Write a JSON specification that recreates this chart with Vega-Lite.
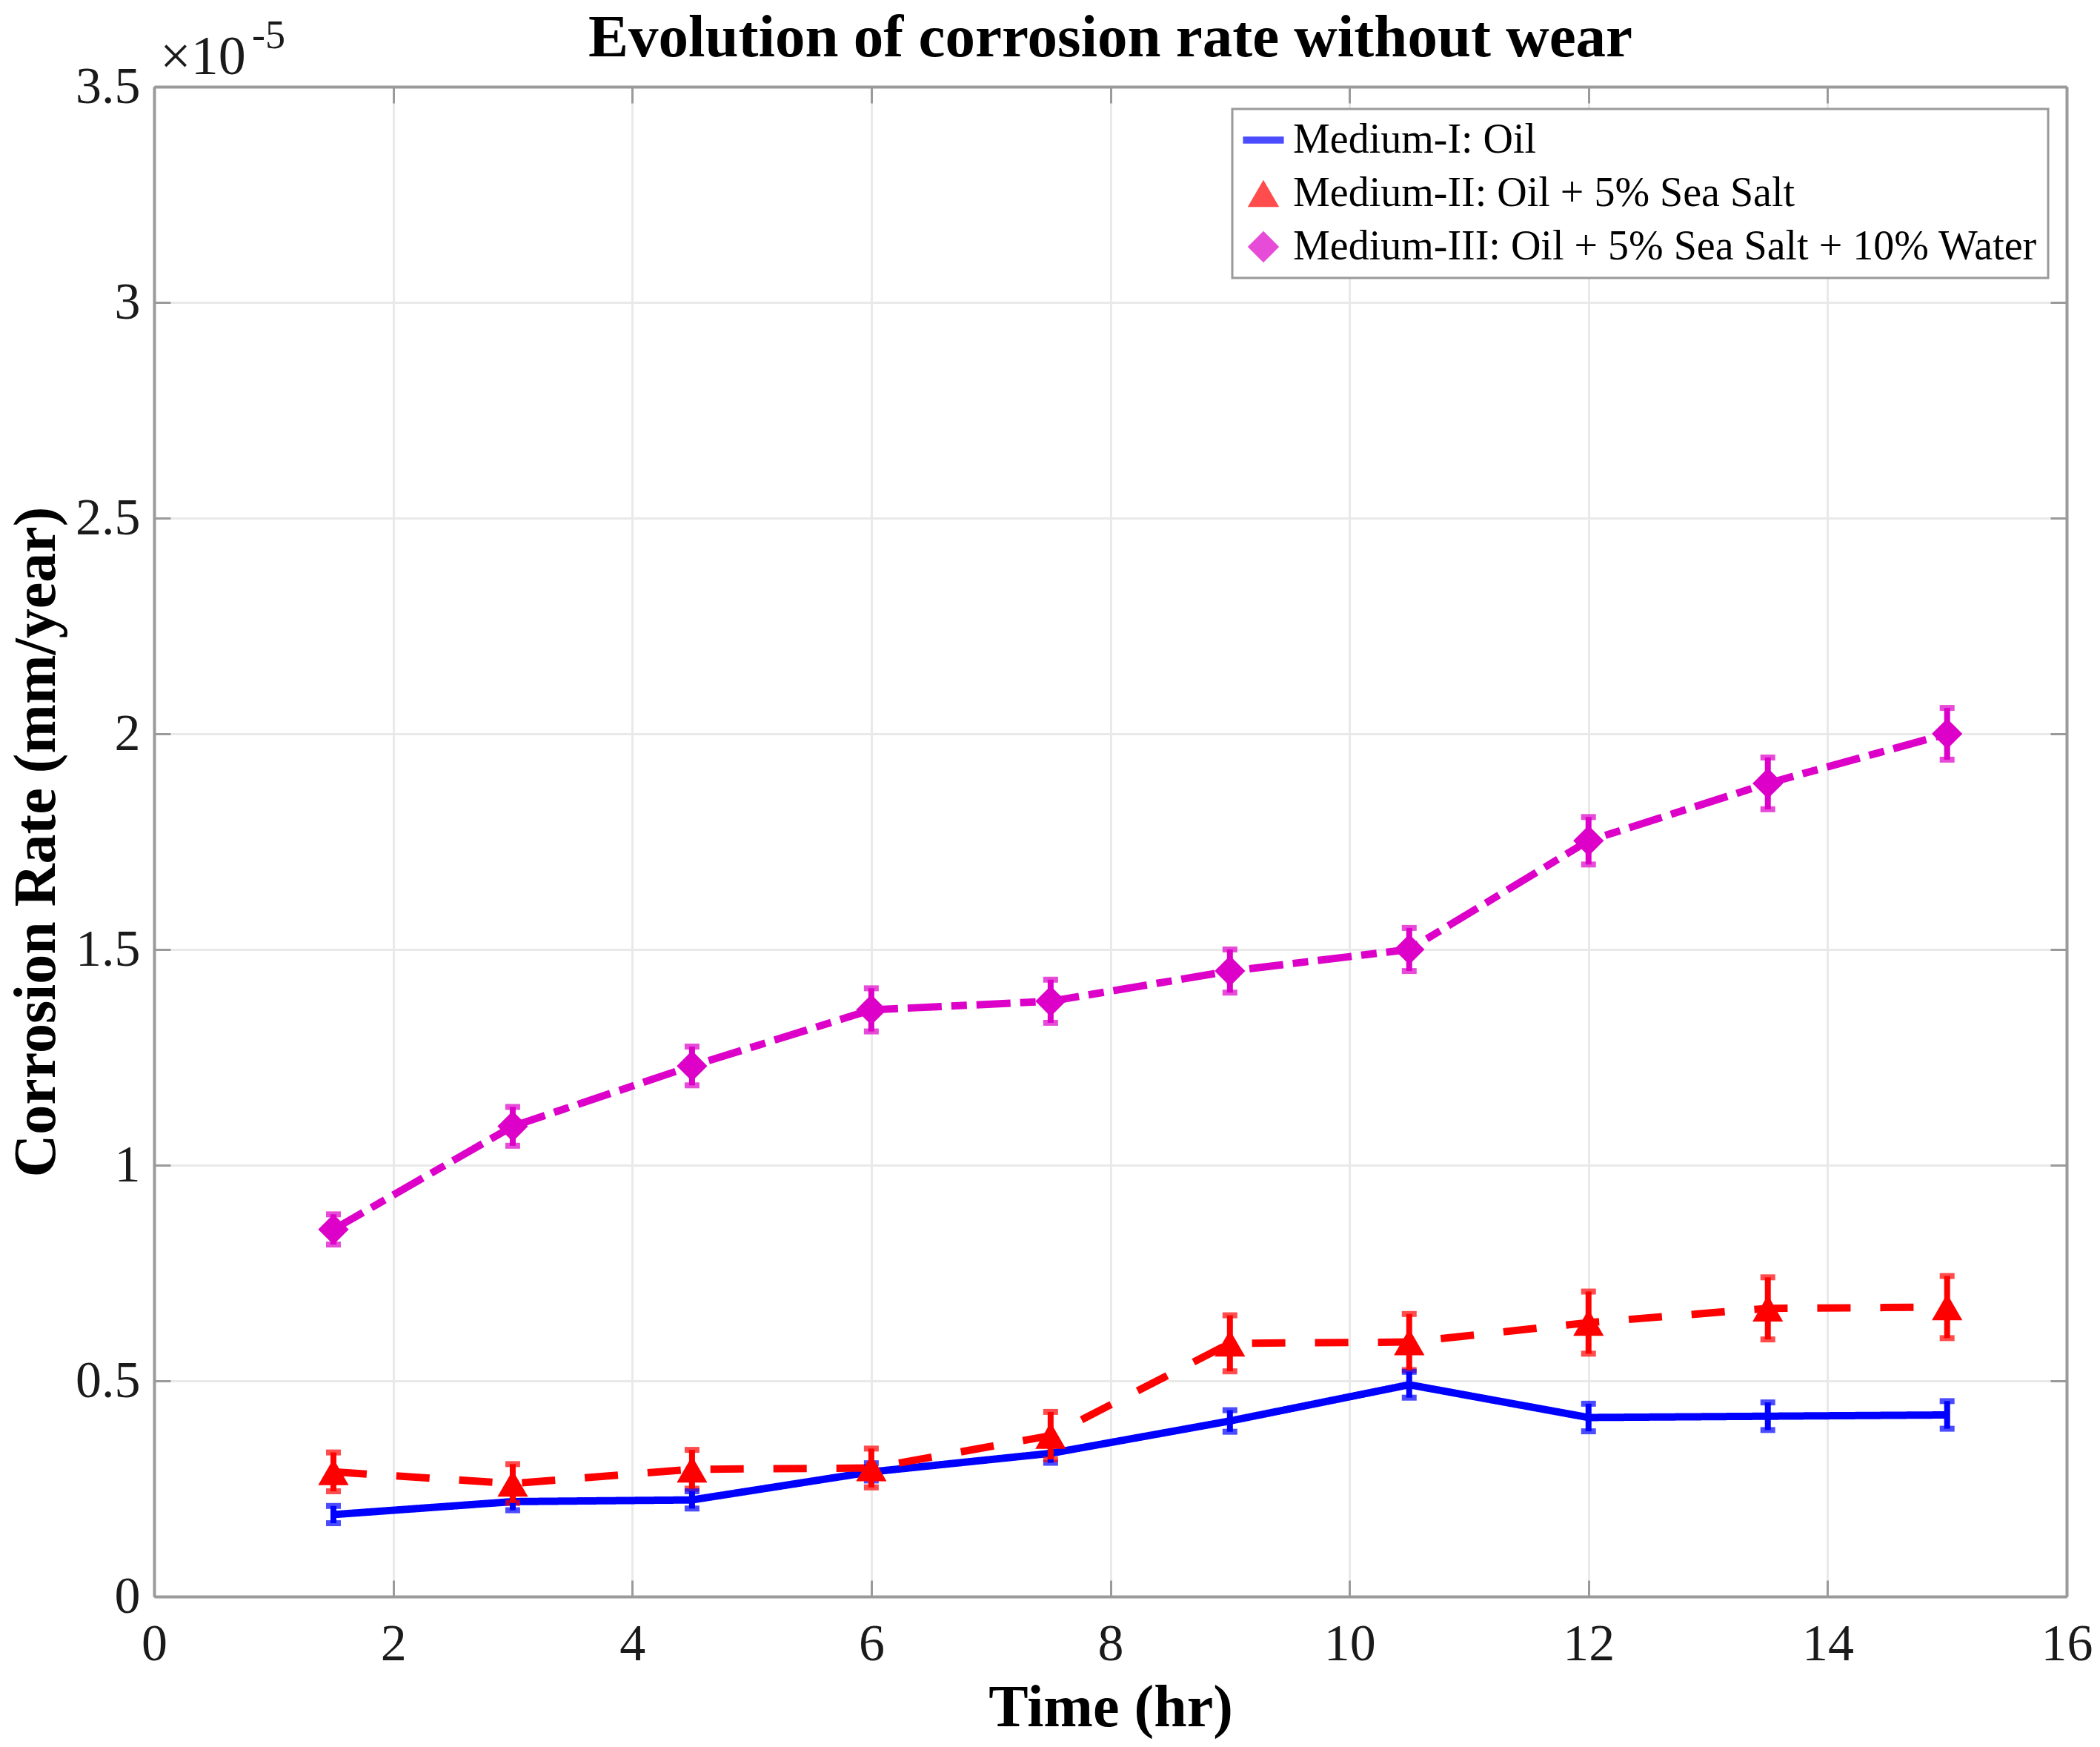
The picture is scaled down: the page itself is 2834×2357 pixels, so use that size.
{
  "$schema": "https://vega.github.io/schema/vega-lite/v6.json",
  "description": "Evolution of corrosion rate without wear, three media, with error bars",
  "width": 2581,
  "height": 2037,
  "autosize": {"type": "none"},
  "padding": {"left": 208, "top": 117, "right": 45, "bottom": 203},
  "background": "white",
  "config": {"font": "Liberation Serif", "view": {"stroke": null}, "legend": {"strokeWidth": 3}},
  "title": {
    "text": "Evolution of corrosion rate without wear",
    "font": "Liberation Serif",
    "fontSize": 81,
    "fontWeight": "bold",
    "color": "black",
    "anchor": "middle",
    "baseline": "alphabetic",
    "offset": -135
  },
  "datasets": {
    "rates": [
      {"time": 1.5, "medium": "Medium-I: Oil", "rate": 1.90e-6, "err": 0.20e-6},
      {"time": 3.0, "medium": "Medium-I: Oil", "rate": 2.20e-6, "err": 0.20e-6},
      {"time": 4.5, "medium": "Medium-I: Oil", "rate": 2.24e-6, "err": 0.20e-6},
      {"time": 6.0, "medium": "Medium-I: Oil", "rate": 2.89e-6, "err": 0.20e-6},
      {"time": 7.5, "medium": "Medium-I: Oil", "rate": 3.32e-6, "err": 0.22e-6},
      {"time": 9.0, "medium": "Medium-I: Oil", "rate": 4.07e-6, "err": 0.25e-6},
      {"time": 10.5, "medium": "Medium-I: Oil", "rate": 4.91e-6, "err": 0.30e-6},
      {"time": 12.0, "medium": "Medium-I: Oil", "rate": 4.15e-6, "err": 0.32e-6},
      {"time": 13.5, "medium": "Medium-I: Oil", "rate": 4.18e-6, "err": 0.32e-6},
      {"time": 15.0, "medium": "Medium-I: Oil", "rate": 4.21e-6, "err": 0.32e-6},
      {"time": 1.5, "medium": "Medium-II: Oil + 5% Sea Salt", "rate": 2.89e-6, "err": 0.45e-6},
      {"time": 3.0, "medium": "Medium-II: Oil + 5% Sea Salt", "rate": 2.62e-6, "err": 0.45e-6},
      {"time": 4.5, "medium": "Medium-II: Oil + 5% Sea Salt", "rate": 2.95e-6, "err": 0.45e-6},
      {"time": 6.0, "medium": "Medium-II: Oil + 5% Sea Salt", "rate": 2.98e-6, "err": 0.45e-6},
      {"time": 7.5, "medium": "Medium-II: Oil + 5% Sea Salt", "rate": 3.73e-6, "err": 0.55e-6},
      {"time": 9.0, "medium": "Medium-II: Oil + 5% Sea Salt", "rate": 5.87e-6, "err": 0.65e-6},
      {"time": 10.5, "medium": "Medium-II: Oil + 5% Sea Salt", "rate": 5.90e-6, "err": 0.65e-6},
      {"time": 12.0, "medium": "Medium-II: Oil + 5% Sea Salt", "rate": 6.35e-6, "err": 0.72e-6},
      {"time": 13.5, "medium": "Medium-II: Oil + 5% Sea Salt", "rate": 6.68e-6, "err": 0.72e-6},
      {"time": 15.0, "medium": "Medium-II: Oil + 5% Sea Salt", "rate": 6.71e-6, "err": 0.72e-6},
      {"time": 1.5, "medium": "Medium-III: Oil + 5% Sea Salt + 10% Water", "rate": 8.51e-6, "err": 0.35e-6},
      {"time": 3.0, "medium": "Medium-III: Oil + 5% Sea Salt + 10% Water", "rate": 10.90e-6, "err": 0.45e-6},
      {"time": 4.5, "medium": "Medium-III: Oil + 5% Sea Salt + 10% Water", "rate": 12.30e-6, "err": 0.45e-6},
      {"time": 6.0, "medium": "Medium-III: Oil + 5% Sea Salt + 10% Water", "rate": 13.60e-6, "err": 0.50e-6},
      {"time": 7.5, "medium": "Medium-III: Oil + 5% Sea Salt + 10% Water", "rate": 13.80e-6, "err": 0.50e-6},
      {"time": 9.0, "medium": "Medium-III: Oil + 5% Sea Salt + 10% Water", "rate": 14.50e-6, "err": 0.50e-6},
      {"time": 10.5, "medium": "Medium-III: Oil + 5% Sea Salt + 10% Water", "rate": 15.00e-6, "err": 0.50e-6},
      {"time": 12.0, "medium": "Medium-III: Oil + 5% Sea Salt + 10% Water", "rate": 17.52e-6, "err": 0.55e-6},
      {"time": 13.5, "medium": "Medium-III: Oil + 5% Sea Salt + 10% Water", "rate": 18.85e-6, "err": 0.60e-6},
      {"time": 15.0, "medium": "Medium-III: Oil + 5% Sea Salt + 10% Water", "rate": 20.00e-6, "err": 0.60e-6}
    ],
    "exponent": [
      {"time": 0, "rate": 3.5e-5, "base": "×10", "power": "-5"}
    ]
  },
  "layer": [
    {
      "data": {"name": "rates"},
      "mark": {"type": "line", "strokeWidth": 10},
      "encoding": {
        "x": {
          "field": "time",
          "type": "quantitative",
          "scale": {"domain": [0, 16], "nice": false},
          "axis": {
            "orient": "bottom",
            "values": [0, 2, 4, 6, 8, 10, 12, 14, 16],
            "title": "Time (hr)",
            "titleFont": "Liberation Serif",
            "titleFontSize": 80,
            "titleFontWeight": "bold",
            "titleColor": "black",
            "titleY": 150,
            "titleBaseline": "middle",
            "labelFont": "Liberation Serif",
            "labelFontSize": 70,
            "labelColor": "#1a1a1a",
            "labelPadding": 52,
            "labelFlush": false,
            "labelOverlap": false,
            "tickSize": -22,
            "tickWidth": 3,
            "tickColor": "#9a9a9a",
            "domainColor": "#9a9a9a",
            "domainWidth": 4,
            "grid": true,
            "gridColor": "#e9e9e9",
            "gridWidth": 3
          }
        },
        "y": {
          "field": "rate",
          "type": "quantitative",
          "scale": {"domain": [0, 3.5e-5], "nice": false, "zero": false},
          "axis": {
            "orient": "left",
            "values": [0, 5e-6, 1e-5, 1.5e-5, 2e-5, 2.5e-5, 3e-5, 3.5e-5],
            "labelExpr": "format(datum.value * 100000, '~g')",
            "title": "Corrosion Rate (mm/year)",
            "titleFont": "Liberation Serif",
            "titleFontSize": 80,
            "titleFontWeight": "bold",
            "titleColor": "black",
            "titleX": -159,
            "titleBaseline": "middle",
            "labelFont": "Liberation Serif",
            "labelFontSize": 70,
            "labelColor": "#1a1a1a",
            "labelPadding": 41,
            "labelFlush": false,
            "labelOverlap": false,
            "tickSize": -22,
            "tickWidth": 3,
            "tickColor": "#9a9a9a",
            "domainColor": "#9a9a9a",
            "domainWidth": 4,
            "grid": true,
            "gridColor": "#e9e9e9",
            "gridWidth": 3
          }
        },
        "color": {
          "field": "medium",
          "type": "nominal",
          "scale": {
            "domain": ["Medium-I: Oil", "Medium-II: Oil + 5% Sea Salt", "Medium-III: Oil + 5% Sea Salt + 10% Water"],
            "range": ["#0000ff", "#ff0000", "#dc00c8"]
          }
        },
        "strokeDash": {
          "field": "medium",
          "type": "nominal",
          "scale": {
            "domain": ["Medium-I: Oil", "Medium-II: Oil + 5% Sea Salt", "Medium-III: Oil + 5% Sea Salt + 10% Water"],
            "range": [[1, 0], [45, 40], [46, 13, 21, 13]]
          },
          "legend": null
        }
      }
    },
    {
      "data": {"name": "rates"},
      "mark": {"type": "errorbar", "ticks": true, "thickness": 8, "size": 20},
      "encoding": {
        "x": {"field": "time", "type": "quantitative", "axis": null},
        "y": {"field": "rate", "type": "quantitative", "axis": null},
        "yError": {"field": "err"},
        "color": {"field": "medium", "type": "nominal"}
      }
    },
    {
      "data": {"name": "rates"},
      "transform": [{"filter": "datum.medium != 'Medium-I: Oil'"}],
      "mark": {"type": "point", "filled": true, "size": 1700, "opacity": 1},
      "encoding": {
        "x": {
          "field": "time",
          "type": "quantitative",
          "axis": {
            "orient": "top",
            "values": [0, 2, 4, 6, 8, 10, 12, 14, 16],
            "labels": false,
            "title": null,
            "grid": false,
            "tickSize": -22,
            "tickWidth": 3,
            "tickColor": "#9a9a9a",
            "domainColor": "#9a9a9a",
            "domainWidth": 4
          }
        },
        "y": {
          "field": "rate",
          "type": "quantitative",
          "axis": {
            "orient": "right",
            "values": [0, 5e-6, 1e-5, 1.5e-5, 2e-5, 2.5e-5, 3e-5, 3.5e-5],
            "labels": false,
            "title": null,
            "grid": false,
            "tickSize": -22,
            "tickWidth": 3,
            "tickColor": "#9a9a9a",
            "domainColor": "#9a9a9a",
            "domainWidth": 4
          }
        },
        "color": {
          "field": "medium",
          "type": "nominal",
          "legend": {
            "title": null,
            "orient": "none",
            "legendX": 1455,
            "legendY": 30,
            "labelFont": "Liberation Serif",
            "labelFontSize": 56,
            "labelColor": "black",
            "labelLimit": 2000,
            "labelOffset": 12,
            "symbolSize": 1800,
            "symbolStrokeWidth": 0,
            "symbolOpacity": 1,
            "rowPadding": 16,
            "padding": 14,
            "strokeColor": "#9a9a9a",
            "fillColor": "white",
            "cornerRadius": 0
          }
        },
        "shape": {
          "field": "medium",
          "type": "nominal",
          "scale": {
            "domain": ["Medium-I: Oil", "Medium-II: Oil + 5% Sea Salt", "Medium-III: Oil + 5% Sea Salt + 10% Water"],
            "range": ["M-1.3,-0.22H1.3V0.22H-1.3Z", "triangle-up", "diamond"]
          }
        }
      }
    },
    {
      "data": {"name": "exponent"},
      "mark": {"type": "text", "align": "left", "baseline": "alphabetic", "fontSize": 74, "font": "Liberation Serif", "color": "#1a1a1a", "dx": 8, "dy": -17},
      "encoding": {
        "x": {"field": "time", "type": "quantitative", "axis": null},
        "y": {"field": "rate", "type": "quantitative", "axis": null},
        "text": {"field": "base"}
      }
    },
    {
      "data": {"name": "exponent"},
      "mark": {"type": "text", "align": "left", "baseline": "alphabetic", "fontSize": 54, "font": "Liberation Serif", "color": "#1a1a1a", "dx": 132, "dy": -52},
      "encoding": {
        "x": {"field": "time", "type": "quantitative", "axis": null},
        "y": {"field": "rate", "type": "quantitative", "axis": null},
        "text": {"field": "power"}
      }
    }
  ],
  "resolve": {"axis": {"x": "independent", "y": "independent"}}
}
